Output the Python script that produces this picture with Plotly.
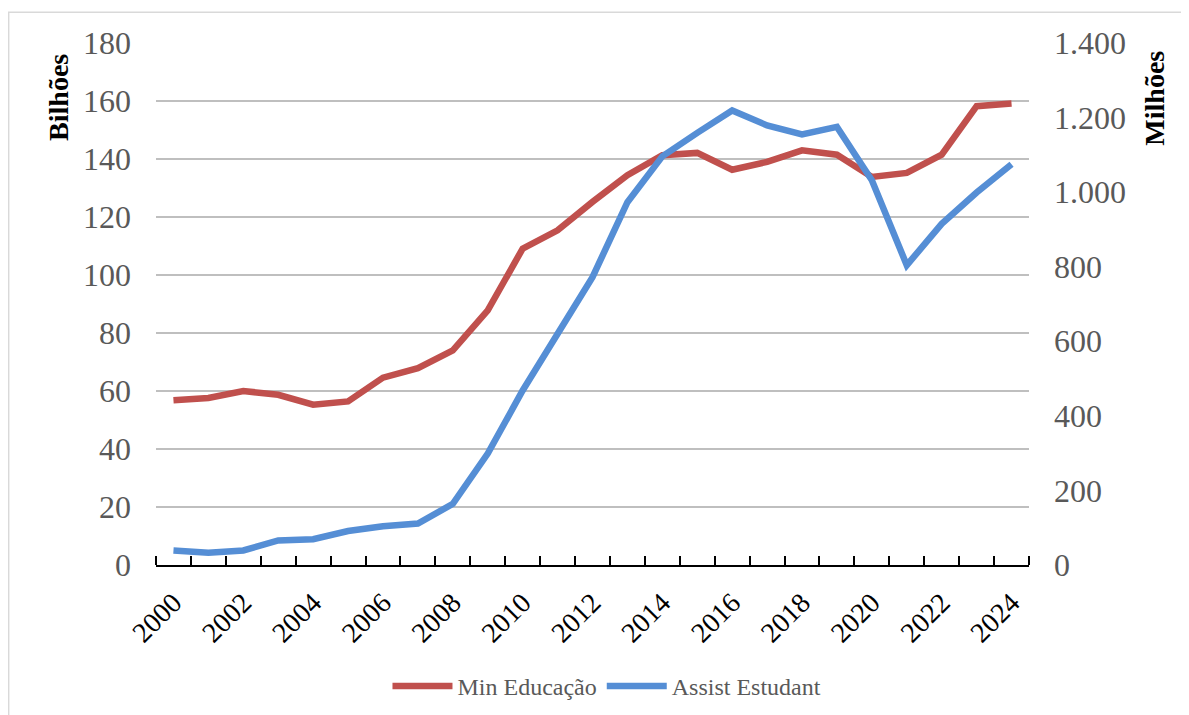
import plotly.graph_objects as go

years = list(range(2000, 2025))
min_educacao = [56.8, 57.6, 60.0, 58.7, 55.3, 56.4, 64.6, 67.9, 74.0, 87.8,
                109.1, 115.4, 125.2, 134.4, 141.3, 142.1, 136.3, 139.0, 143.0, 141.5,
                133.8, 135.2, 141.5, 158.2, 159.1]
assist_estudant = [39, 33, 39, 66, 69, 91, 104, 111, 164, 299,
                   468, 620, 772, 973, 1096, 1159, 1219, 1179, 1155, 1175,
                   1032, 804, 915, 999, 1075]
x_tick_labels = [str(y) for y in range(2000, 2025, 2)]

RED = "#C0504D"
BLUE = "#558ED5"
SERIF = "Liberation Serif"

# target plot-area edges in screenshot pixels
L, R, T, B = 155.5, 1029.5, 42.7, 564.6
W, H = 1189, 715
OFF = 8  # page body margin

def px_x(p):
    return (p - L) / (R - L)

def px_y(p):
    return (B - p) / (B - T)

fig = go.Figure()
fig.add_trace(go.Scatter(x=years, y=min_educacao, name="Min Educação", mode="lines",
                         line=dict(color=RED, width=6.5), yaxis="y"))
fig.add_trace(go.Scatter(x=years, y=assist_estudant, name="Assist Estudant", mode="lines",
                         line=dict(color=BLUE, width=6.5), yaxis="y2"))

fig.update_layout(
    width=W, height=H,
    margin=dict(l=L - OFF, r=(W + OFF) - R, t=T - OFF, b=(H + OFF) - B, autoexpand=False),
    paper_bgcolor="white", plot_bgcolor="white",
    separators=",.",
    showlegend=True,
    legend=dict(orientation="h", x=px_x(607), y=px_y(686), xanchor="center", yanchor="middle",
                font=dict(family=SERIF, size=24, color="#595959"), itemwidth=60,
                bgcolor="rgba(0,0,0,0)"),
    xaxis=dict(range=[1999.5, 2024.5], tickmode="array",
               tickvals=list(range(2000, 2025, 2)), ticktext=x_tick_labels,
               tickangle=-45, ticks="", showgrid=False, zeroline=False,
               showline=True, linecolor="black", linewidth=2,
               tickfont=dict(family=SERIF, size=28, color="black"),
               ticklabelstandoff=8,
               minor=dict(ticks="inside", tick0=1999.5, dtick=1, ticklen=9,
                          tickwidth=2, tickcolor="black", showgrid=False)),
    yaxis=dict(range=[0, 180], dtick=20, showgrid=True, gridcolor="#BFBFBF", gridwidth=2,
               zeroline=False, showline=False, ticks="",
               tickfont=dict(family=SERIF, size=32, color="#595959"),
               ticklabelstandoff=24),
    yaxis2=dict(range=[0, 1400], dtick=200, overlaying="y", side="right",
                showgrid=False, zeroline=False, showline=False, ticks="",
                tickformat=",", tickfont=dict(family=SERIF, size=32, color="#595959"),
                ticklabelstandoff=24),
    shapes=[dict(type="rect", xref="paper", yref="paper",
                 x0=px_x(8), x1=px_x(1220), y0=px_y(760), y1=px_y(12),
                 line=dict(color="#D9D9D9", width=1.5), fillcolor="rgba(0,0,0,0)", layer="below")],
    annotations=[
        dict(text="<b>Bilhões</b>", xref="paper", yref="paper", x=px_x(58), y=px_y(97),
             textangle=-90, showarrow=False, xanchor="center", yanchor="middle",
             font=dict(family=SERIF, size=28, color="black")),
        dict(text="<b>Milhões</b>", xref="paper", yref="paper", x=px_x(1155), y=px_y(98),
             textangle=-90, showarrow=False, xanchor="center", yanchor="middle",
             font=dict(family=SERIF, size=28, color="black")),
    ],
)

fig.write_html("out.html")
